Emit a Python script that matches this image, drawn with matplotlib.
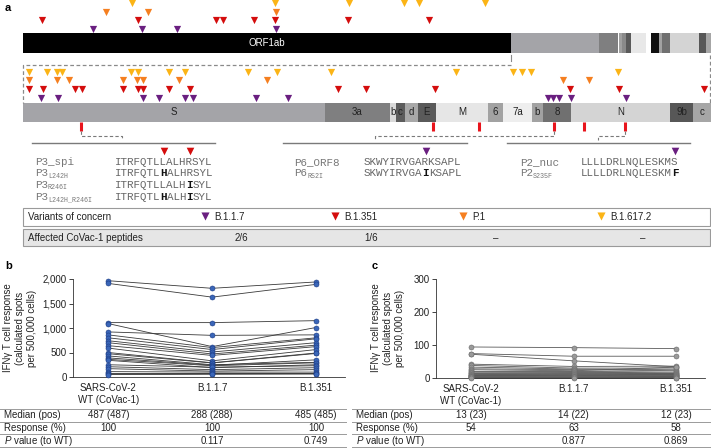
import matplotlib
matplotlib.use('Agg')
import matplotlib.pyplot as plt
from matplotlib.patches import Rectangle
from matplotlib.transforms import blended_transform_factory

plt.rcParams['font.family'] = ['Liberation Sans', 'DejaVu Sans']
plt.rcParams['font.size'] = 7
plt.rcParams['mathtext.fontset'] = 'custom'
plt.rcParams['mathtext.rm'] = 'Liberation Sans'
plt.rcParams['mathtext.it'] = 'Liberation Sans:italic'

W, H = 711, 448

# ---- genome track (nt positions) ----
ORF1AB_END = 21563
GENOME_END = 30401
gene_names = ['S', '3a', 'b', 'c', 'd', 'E', 'M', '6', '7a', 'b', '8', 'N', '9b', 'c']
gene_starts = [21563, 25443, 26278, 26355, 26470, 26637, 26868, 27536, 27729, 28102, 28243, 28603, 29875, 30170]
gene_colors = ['#a4a4a8', '#7f7f80', '#d9d9d9', '#5c5c5c', '#a8a8a8', '#5a5a5a', '#e6e6e6',
               '#a2a2a2', '#eeeeee', '#a2a2a2', '#707070', '#d4d4d4', '#575757', '#a6a6a6']
top_colors = ['#a4a4a8', '#7f7f80', '#ffffff', '#a0a0a0', '#8a8a8a', '#5a5a5a', '#e8e8e8',
              '#ffffff', '#111111', '#a2a2a2', '#707070', '#d4d4d4', '#575757', '#a6a6a6']

variants = ['B.1.1.7', 'B.1.351', 'P.1', 'B.1.617.2']
variant_colors = ['#6a1f80', '#d40d0d', '#f57f20', '#fbb416']

# mutations in ORF1ab (top track)
orf1ab_b117 = [3093, 5258, 6805, 11179]
orf1ab_b1351 = [840, 5081, 8528, 8837, 10207, 11135, 14360, 17940]
orf1ab_p1 = [3667, 5523, 11179]
orf1ab_b16172 = [4816, 11135, 14405, 16835, 17498, 20414]

# mutations from S to the end (lower track)
rest_b117 = [21794, 22013, 23105, 23310, 23644, 23747, 24556, 24967, 28307, 28371, 28449, 28603, 29309]
rest_b1351 = [21640, 21820, 22231, 22321, 22848, 23040, 23105, 23438, 23708, 25609, 25969, 26856,
              28590, 29219, 30311]
rest_p1 = [21640, 21999, 22154, 22848, 23028, 23105, 23567, 24697, 28500, 28834]
rest_b16172 = [21640, 21871, 21999, 22064, 22950, 23040, 23438, 23644, 24453, 24826, 25520, 27125,
               27858, 27973, 28089, 29206]

# CoVac-1 peptides
peptide_pos = [22308, 26830, 27421, 28384, 28770, 29296]

# peptide sequences
p3_names = ['P3_spi', 'P3', 'P3', 'P3']
p3_subs = ['', 'L242H', 'R246I', 'L242H_R246I']
p3_seqs = ['ITRFQTLLALHRSYL', 'ITRFQTLHALHRSYL', 'ITRFQTLLALHISYL', 'ITRFQTLHALHISYL']
p6_names = ['P6_ORF8', 'P6']
p6_subs = ['', 'R52I']
p6_seqs = ['SKWYIRVGARKSAPL', 'SKWYIRVGAIKSAPL']
p2_names = ['P2_nuc', 'P2']
p2_subs = ['', 'S235F']
p2_seqs = ['LLLLDRLNQLESKMS', 'LLLLDRLNQLESKMF']

affected = ['2/6', '1/6', '\u2013', '\u2013']

# ---- panel b / c ----
categories = ['SARS-CoV-2\nWT (CoVac-1)', 'B.1.1.7', 'B.1.351']
b_wt = [1965, 1910, 1110, 1090, 920, 860, 800, 740, 700, 640, 590, 500, 475, 430, 390, 360, 340,
        250, 210, 170, 110, 80, 60, 50]
b_b117 = [1810, 1630, 1110, 620, 850, 600, 560, 510, 470, 440, 330, 290, 286, 250, 240, 230, 190,
          200, 150, 120, 100, 80, 70, 55]
b_b1351 = [1940, 1890, 1150, 1010, 860, 800, 780, 700, 650, 620, 560, 490, 480, 300, 350, 290, 250,
           230, 190, 150, 100, 80, 70, 60]
c_wt = [94, 74, 72, 42, 38, 33, 28, 25, 20, 18, 15, 14, 12, 10, 9, 8, 7, 6, 5, 4, 3, 3, 2, 1]
c_b117 = [92, 66, 52, 35, 30, 27, 25, 22, 20, 18, 16, 15, 13, 12, 10, 9, 8, 6, 5, 4, 3, 2, 2, 1]
c_b1351 = [89, 66, 34, 36, 30, 25, 22, 33, 18, 15, 14, 13, 11, 10, 9, 8, 6, 5, 5, 4, 3, 2, 1, 1]

row_labels = ['Median (pos)', 'Response (%)', '$\\it{P}$ value (to WT)']
b_median = ['487 (487)', '288 (288)', '485 (485)']
b_response = ['100', '100', '100']
b_pvalue = ['', '0.117', '0.749']
c_median = ['13 (23)', '14 (22)', '12 (23)']
c_response = ['54', '63', '58']
c_pvalue = ['', '0.877', '0.869']

fig = plt.figure(figsize=(W / 100, H / 100), dpi=100)

# ---------------- panel a ----------------
gene_ends = gene_starts[1:] + [GENOME_END]
widths = [e - s for s, e in zip(gene_starts, gene_ends)]

ax_top = fig.add_axes([23 / W, 1 - 56 / H, 688 / W, 56 / H])
ax_top.set_xlim(0, GENOME_END)
ax_top.set_ylim(56, 0)
ax_top.axis('off')
ax_top.barh(43.3, ORF1AB_END, left=0, height=20, color='black', lw=0)
ax_top.barh([43.3] * len(widths), widths, left=gene_starts, height=20, color=top_colors, lw=0)
ax_top.text(ORF1AB_END / 2, 43.3, 'ORF1ab', color='white', ha='center', va='center', fontsize=7)
rows_top = [29, 20.5, 12, 3.5]
for pos, col, y in zip([orf1ab_b117, orf1ab_b1351, orf1ab_p1, orf1ab_b16172], variant_colors, rows_top):
    ax_top.scatter(pos, [y] * len(pos), marker='v', s=27, color=col, lw=0, clip_on=False, zorder=3)

ax_low = fig.add_axes([23 / W, 1 - 140 / H, 688 / W, 84 / H])
ax_low.set_xlim(ORF1AB_END, GENOME_END)
ax_low.set_ylim(140, 56)
ax_low.axis('off')
ax_low.barh([112.2] * len(widths), widths, left=gene_starts, height=19, color=gene_colors, lw=0)
for name, s, e in zip(gene_names, gene_starts, gene_ends):
    ax_low.text((s + e) / 2, 112.4, name, ha='center', va='center', fontsize=7, color='#222')
rows_low = [97.7, 89, 80.5, 72]
for pos, col, y in zip([rest_b117, rest_b1351, rest_p1, rest_b16172], variant_colors, rows_low):
    ax_low.scatter(pos, [y] * len(pos), marker='v', s=27, color=col, lw=0, clip_on=False, zorder=3)
ax_low.vlines(peptide_pos, 121.7, 131, color='#e8141c', lw=2.2)

# overlay in pixel units for connectors, sequences and boxes
ax_o = fig.add_axes([0, 0, 1, 1])
ax_o.set_xlim(0, W)
ax_o.set_ylim(H, 0)
ax_o.axis('off')
ax_o.patch.set_alpha(0)


def to_px(ax, x):
    d = ax.transData.transform((x, 0))
    return ax_o.transData.inverted().transform(d)[0]


grey = '#8a8a8a'
x_left = to_px(ax_top, 0)
x_split = to_px(ax_top, ORF1AB_END)
x_right = to_px(ax_top, GENOME_END) - 1
ax_o.plot([x_split, x_split], [55.5, 61], color=grey, lw=0.8)
ax_o.plot([x_split, x_left, x_left], [65, 65, 103], color=grey, lw=0.9, ls=(0, (3, 2)))
ax_o.plot([x_right, x_right], [55.5, 103], color=grey, lw=0.9, ls=(0, (3, 2)))

FS_SEQ = 7.8
CW = 0.6 * FS_SEQ * 100 / 72
mono = 'Liberation Mono'


def seq_runs(seq, bold):
    # split a sequence into runs of plain / bold letters
    runs, start = [], 0
    for i in range(1, len(seq) + 1):
        if i == len(seq) or ((i in bold) != (start in bold)):
            runs.append((start, seq[start:i], start in bold))
            start = i
    return runs


def draw_group(names, subs, seqs, lab_x, seq_x, line_x, anchor_x, pep_idx, var_idx):
    ref = seqs[0]
    ys = [161.7, 173.5, 185.3, 197]
    muts = set()
    for name, sub, seq, y in zip(names, subs, seqs, ys):
        ax_o.text(lab_x, y, name, family=mono, fontsize=FS_SEQ, color='#777', va='center', ha='left')
        if sub:
            ax_o.text(lab_x + len(name) * CW, y + 2.6, sub, family=mono, fontsize=4.8, color='#777',
                      va='center', ha='left')
        bold = {i for i, (a, b) in enumerate(zip(ref, seq)) if a != b}
        muts.update(bold)
        for start, txt, is_bold in seq_runs(seq, bold):
            ax_o.text(seq_x + start * CW, y, txt, family=mono, fontsize=FS_SEQ,
                      weight='bold' if is_bold else 'normal',
                      color='#111' if is_bold else '#666', va='center', ha='left')
    for i in sorted(muts):
        ax_o.scatter(seq_x + (i + 0.5) * CW, 151, marker='v', s=30, color=variant_colors[var_idx], lw=0)
    ax_o.plot(line_x, [143, 143], color='#7a7a7a', lw=1.0)
    px = to_px(ax_low, peptide_pos[pep_idx])
    ax_o.plot([px, px, anchor_x, anchor_x], [131, 135.8, 135.8, 140], color='#7a7a7a', lw=0.8,
              ls=(0, (3, 2)))


draw_group(p3_names, p3_subs, p3_seqs, 35, 115, [32, 215], 122, 0, 1)
draw_group(p6_names, p6_subs, p6_seqs, 294, 364, [283, 467], 375, 3, 0)
draw_group(p2_names, p2_subs, p2_seqs, 520, 581, [507, 690], 598, 5, 0)

ax_o.add_patch(Rectangle((23, 208), 687, 18, facecolor='white', edgecolor='#9a9a9a', lw=0.8))
ax_o.add_patch(Rectangle((23, 229), 687, 17.5, facecolor='#e6e6e6', edgecolor='#9a9a9a', lw=0.8))
ax_o.text(28, 217.2, 'Variants of concern', va='center', ha='left', fontsize=7, color='#222')
ax_o.text(28, 237.8, 'Affected CoVac-1 peptides', va='center', ha='left', fontsize=7, color='#222')
leg_x = [205, 335, 463, 601]
aff_x = [241, 371, 496, 643]
for lx, axx, name, col, aff in zip(leg_x, aff_x, variants, variant_colors, affected):
    ax_o.scatter(lx, 216.5, marker='v', s=34, color=col, lw=0)
    ax_o.text(lx + 9, 217.2, name, va='center', ha='left', fontsize=7, color='#222')
    ax_o.text(axx, 237.8, aff, va='center', ha='center', fontsize=7, color='#222')

# panel letters
ax_o.text(5, 8, 'a', fontsize=8, weight='bold', va='center', ha='left')
ax_o.text(5, 266, 'b', fontsize=8, weight='bold', va='center', ha='left')
ax_o.text(372, 266, 'c', fontsize=8, weight='bold', va='center', ha='left')

ylabel = 'IFN\u03b3 T cell response\n(calculated spots\nper 500,000 cells)'


# ---------------- panels b and c ----------------
def response_panel(rect, series, ymax, yticks, mfc, mec, lc, ylab_x, tab_x0, tab_x1, table):
    ax = fig.add_axes(rect)
    ax.set_xlim(-0.34, 2.28)
    ax.set_ylim(0, ymax)
    for vals in zip(*series):
        ax.plot([0, 1, 2], vals, color=lc, lw=0.6, zorder=2, clip_on=False)
    for i, vals in enumerate(series):
        ax.scatter([i] * len(vals), vals, s=13, color=mfc, edgecolors=mec, linewidths=0.4,
                   zorder=3, clip_on=False)
    for s in ['top', 'right']:
        ax.spines[s].set_visible(False)
    for s in ['left', 'bottom']:
        ax.spines[s].set_linewidth(0.6)
        ax.spines[s].set_color('#333')
    ax.set_yticks(yticks)
    ax.set_yticklabels([f'{t:,}' for t in yticks])
    ax.tick_params(axis='y', length=3, width=0.6, pad=1.5, labelsize=7, colors='#222')
    ax.set_xticks([0, 1, 2])
    ax.set_xticklabels(categories)
    ax.tick_params(axis='x', length=0, pad=4.5, labelsize=7, colors='#222')
    ax_o.text(ylab_x, 328, ylabel, rotation=90, ha='center', va='center', fontsize=7,
              multialignment='center', linespacing=1.25, color='#222')
    # table below
    for y in [409, 421.7, 434.3, 446.8]:
        ax_o.plot([tab_x0, tab_x1], [y, y], color='#9a9a9a', lw=0.7)
    tr = blended_transform_factory(ax.transData, ax_o.transData)
    for y, lab, vals in zip([415.5, 428, 440.5], row_labels, table):
        ax_o.text(tab_x0 + 4, y, lab, ha='left', va='center', fontsize=7, color='#222')
        for i, v in enumerate(vals):
            ax_o.text(i, y, v, ha='center', va='center', fontsize=7, color='#222', transform=tr)
    return ax


response_panel([73 / W, 1 - 377 / H, (345 - 73) / W, (377 - 279) / H],
               [b_wt, b_b117, b_b1351], 2000, [0, 500, 1000, 1500, 2000],
               '#3a66b8', '#1d3c84', '#3a3a3a', 20, 0, 346,
               [b_median, b_response, b_pvalue])
response_panel([436 / W, 1 - 378 / H, (705 - 436) / W, (378 - 279) / H],
               [c_wt, c_b117, c_b1351], 300, [0, 100, 200, 300],
               '#9a9a9a', '#6a6a6a', '#5a5a5a', 388, 352, 711,
               [c_median, c_response, c_pvalue])

fig.savefig('out.png', dpi=100)
